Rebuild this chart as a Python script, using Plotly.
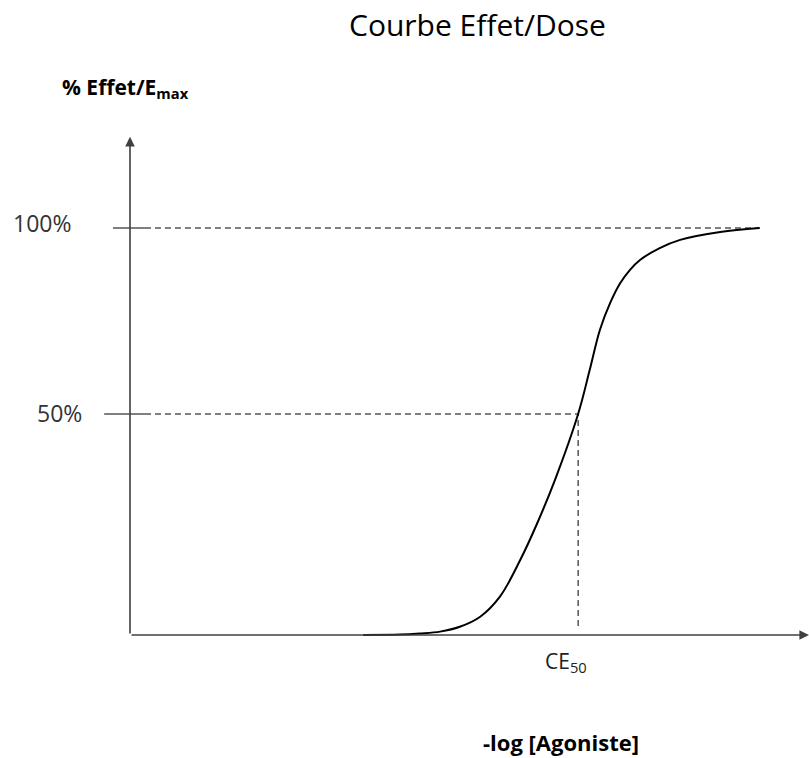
import plotly.graph_objects as go

# -log [Agoniste] (unités arbitraires) et % d'effet
dose = [3.43, 3.97, 4.26, 4.56, 4.85, 5.15, 5.44, 5.74, 5.99, 6.25, 6.59,
        6.76, 6.91, 7.06, 7.21, 7.35, 7.50, 7.79, 8.09, 8.68, 9.26]
effet = [-9.4, -9.3, -9.0, -8.5, -7.2, -4.5, 0.9, 10.8, 20.7, 32.3, 50.0,
         61.8, 72.6, 79.8, 85.2, 88.7, 91.4, 94.6, 96.8, 98.9, 100.0]

ce50 = 6.59
origine_y = -9.4          # niveau de l'axe horizontal
tick_vals = [50, 100]
tick_text = ["50%", "100%"]

AXE = "#404040"
FONT = "Open Sans"
W, H = 809, 758

fig = go.Figure()

# courbe effet/dose
fig.add_trace(go.Scatter(
    x=dose, y=effet, mode="lines", line_shape="spline",
    line=dict(color="black", width=2), hoverinfo="skip", showlegend=False,
))

# lignes pointillées de repère
fig.add_shape(type="line", x0=0.22, x1=dose[-1], y0=100, y1=100,
              line=dict(color="black", width=1, dash="6px,4px"))
fig.add_shape(type="line", x0=0.22, x1=ce50, y0=50, y1=50,
              line=dict(color="black", width=1, dash="6px,4px"))
fig.add_shape(type="line", x0=ce50, x1=ce50, y0=origine_y + 2.4, y1=50,
              line=dict(color="black", width=1, dash="6px,4px"))

# petits traits de graduation + libellés
for v, x_start in zip(tick_vals, [-0.38, -0.25]):
    fig.add_shape(type="line", x0=x_start, x1=0.22, y0=v, y1=v,
                  line=dict(color="black", width=1))

fig.add_annotation(x=-1.29, y=100, text=tick_text[1], showarrow=False,
                   xref="x", yref="y", yshift=5, xanchor="center", yanchor="middle",
                   font=dict(family=FONT, size=23, color="#333333"))
fig.add_annotation(x=-1.04, y=50, text=tick_text[0], showarrow=False,
                   xref="x", yref="y", yshift=1, xanchor="center", yanchor="middle",
                   font=dict(family=FONT, size=23, color="#333333"))

# axes avec flèches
fig.add_annotation(x=9.985, y=origine_y, ax=0, ay=origine_y, axref="x", ayref="y",
                   xref="x", yref="y", text="", showarrow=True,
                   arrowhead=2, arrowsize=1.2, arrowwidth=1.6, arrowcolor=AXE)
fig.add_annotation(x=0, y=124.5, ax=0, ay=origine_y, axref="x", ayref="y",
                   xref="x", yref="y", text="", showarrow=True,
                   arrowhead=2, arrowsize=1.2, arrowwidth=1.6, arrowcolor=AXE)

# CE50
fig.add_annotation(x=ce50, y=1 - 662 / H, xref="x", yref="paper", xshift=-12,
                   text="CE<sub>50</sub>", showarrow=False,
                   xanchor="center", yanchor="middle",
                   font=dict(family=FONT, size=21, color="#222222"))

# titres
fig.add_annotation(x=477 / W, y=1 - 25 / H, xref="paper", yref="paper",
                   text="Courbe Effet/Dose", showarrow=False,
                   xanchor="center", yanchor="middle",
                   font=dict(family=FONT, size=30, color="black"))
fig.add_annotation(x=125 / W, y=1 - 88 / H, xref="paper", yref="paper",
                   text="<b>% Effet/E<sub>max</sub></b>", showarrow=False,
                   xanchor="center", yanchor="middle",
                   font=dict(family=FONT, size=21, color="black"))
fig.add_annotation(x=561 / W, y=1 - 742 / H, xref="paper", yref="paper",
                   text="<b>-log [Agoniste]</b>", showarrow=False,
                   xanchor="center", yanchor="middle",
                   font=dict(family=FONT, size=22, color="black"))

fig.update_layout(
    width=W, height=H,
    margin=dict(l=0, r=0, t=0, b=0),
    paper_bgcolor="white", plot_bgcolor="white",
    xaxis=dict(range=[-130 / 68, 679 / 68], visible=False, fixedrange=True),
    yaxis=dict(range=[50 - 344 / 3.72, 50 + 414 / 3.72], visible=False, fixedrange=True),
    showlegend=False,
)

fig.write_html("out.html", config={"displayModeBar": False},
               post_script="document.body.style.margin='0';")
